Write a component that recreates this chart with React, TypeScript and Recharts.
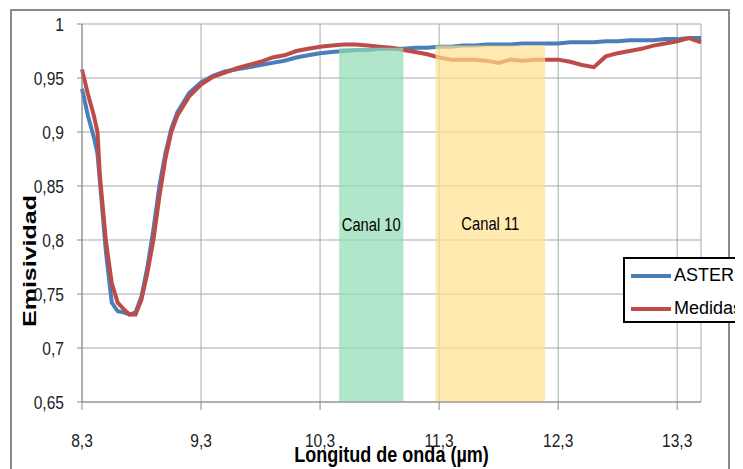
import {
  LineChart,
  Line,
  XAxis,
  YAxis,
  CartesianGrid,
  ReferenceArea,
  Legend,
} from 'recharts';

// wavelength (µm)
const wavelength = [
  8.3, 8.35, 8.4, 8.43, 8.45, 8.5, 8.55, 8.6, 8.65, 8.7, 8.75, 8.8, 8.85, 8.9, 8.95, 9.0, 9.05, 9.1,
  9.2, 9.3, 9.4, 9.5, 9.6, 9.7, 9.8, 9.9, 10.0, 10.1, 10.2, 10.3, 10.4, 10.5, 10.6, 10.7, 10.8,
  10.9, 11.0, 11.1, 11.2, 11.3, 11.4, 11.5, 11.6, 11.7, 11.8, 11.9, 12.0, 12.1, 12.2, 12.3, 12.4,
  12.5, 12.6, 12.7, 12.8, 12.9, 13.0, 13.1, 13.2, 13.3, 13.4, 13.5,
];

const aster = [
  0.94, 0.915, 0.895, 0.88, 0.855, 0.79, 0.742, 0.734, 0.733, 0.731, 0.733, 0.748, 0.775, 0.81,
  0.85, 0.88, 0.903, 0.918, 0.936, 0.946, 0.952, 0.956, 0.958, 0.96, 0.962, 0.964, 0.966, 0.969,
  0.971, 0.973, 0.974, 0.975, 0.976, 0.976, 0.977, 0.977, 0.977, 0.978, 0.978, 0.979, 0.979, 0.98,
  0.98, 0.981, 0.981, 0.981, 0.982, 0.982, 0.982, 0.982, 0.983, 0.983, 0.983, 0.984, 0.984, 0.985,
  0.985, 0.985, 0.986, 0.986, 0.987, 0.987,
];

const medidas = [
  0.958, 0.935, 0.915, 0.9, 0.86, 0.8, 0.76, 0.742, 0.736, 0.731, 0.731, 0.745, 0.77, 0.8, 0.84,
  0.875, 0.9, 0.915, 0.933, 0.944, 0.951, 0.955, 0.959, 0.962, 0.965, 0.969, 0.971, 0.975, 0.977,
  0.979, 0.98, 0.981, 0.981, 0.98, 0.979, 0.978, 0.976, 0.974, 0.972, 0.969, 0.967, 0.967, 0.967,
  0.966, 0.964, 0.967, 0.966, 0.967, 0.967, 0.967, 0.965, 0.962, 0.96, 0.97, 0.973, 0.975, 0.977,
  0.98, 0.982, 0.984, 0.987, 0.983,
];

const xTicks = [8.3, 9.3, 10.3, 11.3, 12.3, 13.3];
const yTicks = [0.65, 0.7, 0.75, 0.8, 0.85, 0.9, 0.95, 1];

const canal10 = [10.46, 11.0, 0.978];
const canal11 = [11.27, 12.19, 0.98];

const data = wavelength.map((w, i) => ({ w, aster: aster[i], medidas: medidas[i] }));

const BLUE = '#4a7ebb';
const RED = '#be4b48';
const SANS = '"Liberation Sans", Arial, sans-serif';
const SQUEEZE = 0.82; // reference text is drawn tall and narrow

const comma = (v: number) => String(v).replace('.', ',');

// tick text squeezed horizontally like the original
function NarrowTick(props: any) {
  const { x, y, payload, textAnchor, vertical } = props;
  return (
    <g transform={`translate(${x},${y}) scale(${SQUEEZE},1)`}>
      <text
        x={0}
        y={0}
        dy={vertical ? '0.35em' : '0.71em'}
        textAnchor={textAnchor}
        fontSize={19}
        fontFamily={SANS}
        fill="#222"
      >
        {comma(payload.value)}
      </text>
    </g>
  );
}

function SqueezedText({ x, y, text, size, bold }: any) {
  return (
    <g transform={`translate(${x},${y}) scale(${SQUEEZE},1)`}>
      <text
        x={0}
        y={0}
        textAnchor="middle"
        dominantBaseline="central"
        fontSize={size}
        fontWeight={bold ? 'bold' : 'normal'}
        fontFamily={SANS}
        fill="#000"
      >
        {text}
      </text>
    </g>
  );
}

function bandLabel(text: string) {
  return ({ viewBox }: any) => (
    <SqueezedText x={viewBox.x + viewBox.width / 2} y={viewBox.y + viewBox.height / 2} text={text} size={18} />
  );
}

function LegendBox() {
  const row = (color: string, name: string) => (
    <div style={{ display: 'flex', alignItems: 'center', height: 33 }}>
      <div style={{ width: 40, height: 4, background: color, marginLeft: 6, marginRight: 3 }} />
      <span style={{ fontFamily: SANS, fontSize: 18, color: '#000' }}>{name}</span>
    </div>
  );
  return (
    <div
      style={{
        border: '2px solid #000',
        background: '#fff',
        width: 130,
        height: 66,
        boxSizing: 'border-box',
      }}
    >
      {row(BLUE, 'ASTER')}
      {row(RED, 'Medidas')}
    </div>
  );
}

export default function App() {
  return (
    <div style={{ position: 'relative', width: 735, height: 461, overflow: 'hidden' }}>
      <div
        style={{
          position: 'absolute',
          left: 2,
          top: 1,
          width: 720,
          height: 480,
          border: '2px solid #8a8a8a',
          boxSizing: 'border-box',
        }}
      />
      <LineChart
        width={735}
        height={461}
        data={data}
        margin={{ top: 16, right: 42, left: 14, bottom: 7 }}
      >
        <CartesianGrid stroke="#a9a9a9" strokeWidth={1} />
        <XAxis
          dataKey="w"
          type="number"
          domain={[8.3, 13.5]}
          ticks={xTicks}
          height={60}
          stroke="#8a8a8a"
          tickSize={8}
          tickMargin={24}
          tick={<NarrowTick />}
          label={{
            content: ({ viewBox }: any) => (
              <SqueezedText
                x={viewBox.x + viewBox.width / 2}
                y={446}
                text="Longitud de onda (µm)"
                size={22}
                bold
              />
            ),
          }}
        />
        <YAxis
          type="number"
          domain={[0.65, 1]}
          ticks={yTicks}
          width={60}
          stroke="#8a8a8a"
          tickSize={5}
          tickMargin={13}
          tick={<NarrowTick vertical />}
          label={{
            content: () => (
              <text
                x={22}
                y={253}
                transform="rotate(-90 22 253)"
                textAnchor="middle"
                dominantBaseline="central"
                fontSize={18}
                fontWeight="bold"
                fontFamily={SANS}
                textLength={132}
                lengthAdjust="spacingAndGlyphs"
                fill="#000"
              >
                Emisividad
              </text>
            ),
          }}
        />
        <Line
          type="linear"
          dataKey="aster"
          name="ASTER"
          stroke={BLUE}
          strokeWidth={4}
          dot={false}
          isAnimationActive={false}
        />
        <Line
          type="linear"
          dataKey="medidas"
          name="Medidas"
          stroke={RED}
          strokeWidth={4}
          dot={false}
          isAnimationActive={false}
        />
        <ReferenceArea
          x1={canal10[0]}
          x2={canal10[1]}
          y1={0.65}
          y2={canal10[2]}
          fill="#92dcb5"
          fillOpacity={0.7}
          zIndex={450}
          label={{ content: bandLabel('Canal 10') }}
        />
        <ReferenceArea
          x1={canal11[0]}
          x2={canal11[1]}
          y1={0.65}
          y2={canal11[2]}
          fill="#ffe18e"
          fillOpacity={0.7}
          zIndex={450}
          label={{ content: bandLabel('Canal 11') }}
        />
        <Legend
          layout="horizontal"
          verticalAlign="middle"
          align="center"
          wrapperStyle={{ left: 615, top: 249, width: 130, height: 66 }}
          content={() => <LegendBox />}
        />
      </LineChart>
    </div>
  );
}
